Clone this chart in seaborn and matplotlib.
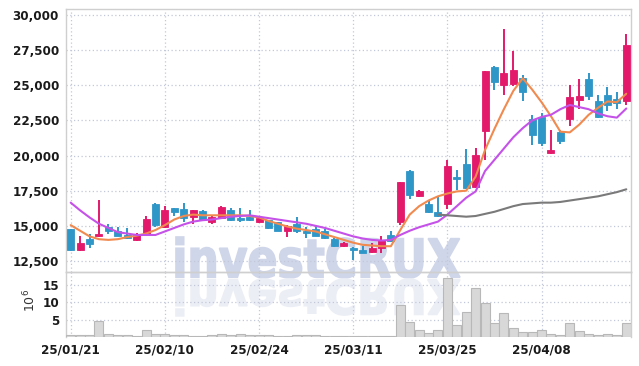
import matplotlib
matplotlib.use("Agg")
import matplotlib.pyplot as plt
from matplotlib import font_manager
from matplotlib.patches import PathPatch
from matplotlib.textpath import TextPath
from matplotlib.font_manager import FontProperties
from matplotlib.transforms import Affine2D, IdentityTransform
from matplotlib.ticker import FuncFormatter
import numpy as np
import pandas as pd
import seaborn as sns

UP = "#e3196b"
DOWN = "#2f96c8"
ORANGE = "#f08a4f"
PURPLE = "#c552e8"
GRAY = "#7a7a7a"
GRID = "#c3c8d9"

# daily candles (KRW)
opens = [14750, 13250, 14050, 14250, 14950, 14650, 14350, 14000, 14350, 16550,
         14900, 16250, 16200, 15650, 16050, 15300, 15550, 16100, 15550, 15600,
         15250, 15400, 15250, 14650, 15100, 14650, 14750, 14650, 14050, 13550,
         13400, 13300, 13150, 13400, 14350, 15250, 18900, 17150, 16550, 16000,
         16550, 18500, 19400, 17750, 21750, 26300, 25000, 25100, 25550, 22600,
         22750, 20150, 21700, 22600, 23950, 25450, 23850, 24300, 24050, 23850]
highs = [14800, 14250, 14400, 16850, 15100, 14900, 14850, 14500, 15700, 16600,
         16400, 16300, 16600, 16150, 16150, 15750, 16400, 16250, 16250, 16100,
         15700, 15450, 15300, 15050, 15600, 14950, 15050, 14800, 14100, 13850,
         13500, 13550, 13800, 14250, 14600, 18150, 18950, 17550, 16850, 17050,
         19700, 19000, 20450, 20550, 26050, 26350, 29000, 27450, 25700, 22900,
         23000, 21800, 21800, 25000, 25450, 25850, 24300, 24900, 24550, 28650]
lows = [13200, 13200, 13450, 14200, 14400, 14250, 14050, 13950, 14300, 14950,
        14850, 15700, 15300, 15100, 15350, 15150, 15500, 15350, 15300, 15350,
        15200, 14800, 14600, 14200, 14500, 14100, 14250, 14050, 13500, 13500,
        12550, 13050, 13100, 13100, 13850, 15050, 16900, 17050, 15900, 15600,
        16200, 17550, 17650, 17700, 19700, 24650, 24300, 24950, 23850, 20750,
        20700, 20100, 20850, 22100, 23300, 23950, 22700, 23200, 23300, 23600]
closes = [13250, 13800, 13700, 14450, 14600, 14300, 14100, 14450, 15500, 15050,
          16100, 16000, 15550, 16100, 15400, 15600, 16350, 15400, 15450, 15400,
          15550, 14850, 14650, 15000, 14600, 14500, 14300, 14100, 13550, 13750,
          13250, 13100, 13450, 14000, 13900, 18100, 17200, 17500, 15950, 15700,
          19250, 18300, 17700, 20050, 26000, 25250, 25900, 26100, 24500, 21450,
          20900, 20400, 21050, 24200, 24250, 24250, 22750, 23600, 23750, 27850]
# volume in millions of shares
volumes = [0.7, 0.7, 0.7, 4.7, 1.0, 0.7, 0.7, 0.4, 1.9, 1.0,
           1.0, 0.7, 0.6, 0.4, 0.4, 0.7, 1.0, 0.5, 1.0, 0.5,
           0.5, 0.5, 0.4, 0.3, 0.5, 0.5, 0.5, 0.4, 0.3, 0.2,
           0.2, 0.2, 0.2, 0.4, 0.3, 9.3, 4.2, 2.1, 1.2, 1.9,
           16.9, 3.3, 7.2, 14.0, 9.8, 3.9, 6.9, 2.6, 1.4, 1.4,
           1.9, 1.0, 0.6, 3.9, 1.6, 1.0, 0.7, 1.0, 0.7, 3.9]
# moving averages as drawn
ma_short = [15050, 14650, 14250, 14050, 14000, 14050, 14200, 14300, 14450, 14700,
            15050, 15450, 15700, 15800, 15750, 15750, 15750, 15750, 15750, 15700,
            15600, 15350, 15150, 14950, 14800, 14700, 14600, 14400, 14200, 14000,
            13800, 13650, 13600, 13550, 13550, 14700, 15800, 16400, 16800, 17100,
            17300, 17450, 17500, 18500, 20400, 21900, 23300, 24600, 25500, 24700,
            23800, 22800, 21700, 21650, 22200, 22900, 23400, 23850, 23800, 24400]
ma_mid = [16650, 16100, 15600, 15150, 14850, 14550, 14450, 14350, 14350, 14350,
          14600, 14850, 15100, 15300, 15400, 15450, 15550, 15650, 15700, 15750,
          15650, 15550, 15450, 15350, 15250, 15150, 15000, 14850, 14650, 14450,
          14250, 14100, 14000, 13950, 14000, 14350, 14650, 14900, 15100, 15300,
          15800, 16400, 17000, 17450, 18900, 19700, 20500, 21300, 21950, 22500,
          22750, 22900, 23300, 23600, 23450, 23300, 23000, 22800, 22700, 23350]
ma_long_start = 39
ma_long = [15800, 15750, 15700, 15650, 15700, 15850, 16000, 16200, 16400, 16550,
           16600, 16650, 16650, 16700, 16800, 16900, 17000, 17100, 17250, 17400, 17600]

tick_idx = [0, 10, 20, 30, 40, 50]
tick_labels = ["25/01/21", "25/02/10", "25/02/24", "25/03/11", "25/03/25", "25/04/08"]

sns.set_style("white")

# pick a narrow face for the tick labels if one is installed
installed = {(f.name, f.stretch) for f in font_manager.fontManager.ttflist}
names = {n for n, _ in installed}
label_font = dict(family="Roboto", size=10, weight="medium")
if "Liberation Sans Narrow" in names:
    label_font = dict(family="Liberation Sans Narrow", size=11, weight="bold")
elif ("DejaVu Sans", "condensed") in installed:
    label_font = dict(family="DejaVu Sans", size=9.5, weight="bold", stretch="condensed")
plt.rcParams["font.family"] = [label_font["family"], "DejaVu Sans"]

df = pd.DataFrame({"o": opens, "h": highs, "l": lows, "c": closes, "v": volumes})
df["idx"] = np.arange(len(df))
colors = [UP if c >= o else DOWN for o, c in zip(df["o"], df["c"])]

W, H = 639, 366
fig = plt.figure(figsize=(W / 100, H / 100), dpi=100)
left, right = 66 / W, 631 / W
ax = fig.add_axes([left, (H - 272) / H, right - left, 263 / H])
ax_vol = fig.add_axes([left, (H - 337) / H, right - left, 65 / H], sharex=ax)
for a in (ax, ax_vol):
    a.set_facecolor("none")

# watermark and its reflection
fp = FontProperties(family="DejaVu Sans", weight="bold")
tp = TextPath((0, 0), "investCRUX", size=50, prop=fp)
ext = tp.get_extents()
sx = (460 - 176) / ext.width
sy = 41 / ext.height
wm = Affine2D().translate(-ext.x0, -ext.y0).scale(sx, sy).translate(176, H - 278)
fig.add_artist(PathPatch(wm.transform_path(tp), facecolor="#d0d6ea", edgecolor="#d0d6ea",
                         linewidth=1.2, transform=IdentityTransform(), zorder=-2))
refl = Affine2D().translate(-ext.x0, -ext.y0).scale(sx, -sy * 0.9).translate(176, H - 279)
fig.add_artist(PathPatch(refl.transform_path(tp), facecolor="#eceef6", edgecolor="#eceef6",
                         linewidth=1.2, transform=IdentityTransform(), zorder=-2))

# candles
ax.vlines(df["idx"], df["l"], df["h"], colors=colors, lw=1.4, zorder=3)
body_low = np.minimum(df["o"], df["c"])
body_h = np.maximum(np.abs(df["c"] - df["o"]), 70)
ax.bar(df["idx"], body_h, bottom=body_low, width=0.74, color=colors,
       edgecolor=colors, linewidth=0.6, zorder=4)

sns.lineplot(x=df["idx"], y=ma_short, ax=ax, color=ORANGE, lw=1.5, zorder=5)
sns.lineplot(x=df["idx"], y=ma_mid, ax=ax, color=PURPLE, lw=1.5, zorder=5)
sns.lineplot(x=np.arange(ma_long_start, ma_long_start + len(ma_long)), y=ma_long,
             ax=ax, color=GRAY, lw=1.5, zorder=5)

sns.barplot(x="idx", y="v", data=df, ax=ax_vol, native_scale=True, width=0.95,
            color="#d8d8d8", edgecolor="#b8b8b8", linewidth=0.8, zorder=3)

ax.set_xlim(-0.5, len(df) - 0.5)
ax.set_ylim(11715, 30430)
ax.set_yticks(np.arange(12500, 30001, 2500))
ax.yaxis.set_major_formatter(FuncFormatter(lambda v, p: f"{v:,.0f}"))
ax_vol.set_ylim(0, 18.6)
ax_vol.set_yticks([5, 10, 15])
ax_vol.set_xticks(tick_idx)
ax_vol.set_xticklabels(tick_labels)
plt.setp(ax.get_xticklabels(), visible=False)

for a in (ax, ax_vol):
    a.set_xlabel("")
    a.set_ylabel("")
    a.grid(True, linestyle=(0, (1, 2)), color=GRID, lw=0.9)
    a.set_axisbelow(True)
    a.tick_params(length=0, colors="#1a1a1a", pad=5)
    for lab in a.get_xticklabels() + a.get_yticklabels():
        lab.set_fontproperties(FontProperties(**label_font))
    for s in a.spines.values():
        s.set_color("#cfcfcf")
        s.set_linewidth(1.0)
ax_vol.spines["bottom"].set_visible(False)
ax_vol.tick_params(axis="x", pad=5)

fig.text(30 / W, (H - 300) / H, r"$10^6$", rotation=90, ha="center", va="center",
         fontsize=9, color="#333333")

fig.savefig("out.png", dpi=100, facecolor="white")
